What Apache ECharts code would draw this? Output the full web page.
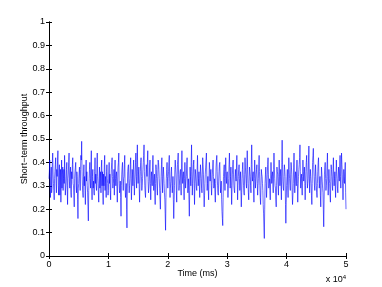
<!DOCTYPE html>
<html><head><meta charset="utf-8">
<script src="https://cdn.jsdelivr.net/npm/echarts@6/dist/echarts.min.js"></script>
<style>html,body{margin:0;padding:0;background:#fff}#c{width:382px;height:287px}</style>
</head><body><div id="c"></div>
<script>
var sampleStepMs = 62.5;
// samples at even steps (0, 125, 250 ... ms)
var throughputEven = [
0.33,0.41,0.25,0.38,0.29,0.44,0.31,0.24,0.36,0.42,0.27,0.34,0.45,0.26,0.39,0.30,0.23,0.41,0.35,0.28,
0.37,0.43,0.26,0.32,0.40,0.22,0.35,0.44,0.29,0.38,0.25,0.33,0.42,0.30,0.21,0.36,0.40,0.27,0.34,0.16,
0.31,0.38,0.28,0.43,0.49,0.30,0.25,0.39,0.34,0.22,0.41,0.36,0.27,0.15,0.33,0.40,0.29,0.45,0.24,0.37,
0.32,0.26,0.42,0.35,0.28,0.44,0.31,0.23,0.38,0.33,0.27,0.41,0.36,0.22,0.30,0.43,0.34,0.25,0.39,0.31,
0.28,0.40,0.35,0.24,0.37,0.42,0.29,0.33,0.26,0.41,0.30,0.36,0.23,0.38,0.44,0.27,0.32,0.17,0.35,0.40,
0.28,0.34,0.43,0.25,0.31,0.12,0.36,0.39,0.27,0.33,0.42,0.24,0.37,0.30,0.41,0.26,0.35,0.44,0.29,0.475,
0.31,0.38,0.23,0.36,0.42,0.28,0.33,0.40,0.475,0.30,0.25,0.39,0.34,0.45,0.27,0.32,0.41,0.24,0.36,0.30,
0.43,0.28,0.35,0.22,0.39,0.33,0.26,0.41,0.37,0.29,0.20,0.34,0.42,0.27,0.38,0.31,0.24,0.11,0.33,0.40,
0.29,0.36,0.43,0.25,0.32,0.38,0.27,0.34,0.16,0.30,0.41,0.35,0.23,0.39,0.44,0.28,0.33,0.37,0.26,0.45,
0.31,0.36,0.24,0.40,0.29,0.34,0.42,0.27,0.33,0.17,0.38,0.30,0.475,0.26,0.35,0.41,0.22,0.37,0.32,0.28,
0.43,0.30,0.36,0.25,0.39,0.33,0.27,0.42,0.35,0.21,0.31,0.38,0.44,0.28,0.34,0.24,0.40,0.32,0.37,0.26,
0.35,0.41,0.29,0.33,0.23,0.38,0.43,0.30,0.26,0.36,0.40,0.27,0.32,0.19,0.13,0.34,0.39,0.28,0.42,0.31,
0.36,0.25,0.33,0.44,0.29,0.38,0.22,0.35,0.41,0.30,0.27,0.37,0.32,0.43,0.24,0.34,0.39,0.28,0.36,0.21,
0.33,0.40,0.30,0.26,0.42,0.35,0.29,0.45,0.31,0.24,0.38,0.34,0.27,0.475,0.32,0.36,0.23,0.41,0.29,0.35,
0.39,0.26,0.33,0.43,0.30,0.22,0.37,0.34,0.28,0.18,0.075,0.31,0.38,0.25,0.35,0.42,0.29,0.33,0.24,0.40,
0.31,0.36,0.27,0.44,0.33,0.29,0.21,0.38,0.35,0.26,0.41,0.30,0.37,0.24,0.495,0.32,0.28,0.39,0.34,0.14,
0.30,0.37,0.25,0.42,0.33,0.28,0.40,0.35,0.22,0.31,0.44,0.27,0.36,0.30,0.41,0.23,0.34,0.39,0.475,0.29,
0.35,0.26,0.41,0.32,0.38,0.24,0.36,0.43,0.29,0.33,0.47,0.27,0.37,0.31,0.22,0.40,0.46,0.34,0.28,0.39,
0.30,0.25,0.36,0.42,0.29,0.34,0.21,0.38,0.32,0.27,0.125,0.35,0.40,0.28,0.33,0.44,0.26,0.37,0.31,0.23,
0.39,0.34,0.28,0.42,0.30,0.36,0.25,0.41,0.33,0.27,0.38,0.32,0.43,0.29,0.44,0.35,0.24,0.37,0.31,0.40,
0.20
];
// samples at odd steps (62.5, 187.5 ... ms)
var throughputOdd = [
0.36,0.30,0.34,0.27,0.40,0.35,0.28,0.33,0.39,0.31,0.37,0.41,0.30,0.35,0.26,0.37,0.32,0.29,0.38,0.33,
0.31,0.34,0.29,0.37,0.30,0.33,0.40,0.32,0.35,0.27,0.36,0.39,0.31,0.26,0.33,0.38,0.30,0.36,0.24,0.29,
0.35,0.33,0.37,0.41,0.36,0.27,0.34,0.30,0.28,0.35,0.32,0.30,0.21,0.28,0.37,0.33,0.38,0.30,0.34,0.29,
0.27,0.36,0.31,0.30,0.39,0.34,0.27,0.33,0.29,0.36,0.38,0.30,0.27,0.35,0.39,0.28,0.31,0.36,0.33,0.26,
0.35,0.31,0.28,0.33,0.40,0.34,0.31,0.37,0.35,0.33,0.34,0.29,0.32,0.40,0.31,0.28,0.25,0.30,0.38,0.32,
0.33,0.39,0.30,0.27,0.20,0.29,0.38,0.31,0.30,0.39,0.33,0.30,0.35,0.37,0.32,0.31,0.40,0.34,0.39,0.36,
0.35,0.29,0.31,0.40,0.34,0.30,0.37,0.43,0.36,0.27,0.33,0.37,0.40,0.32,0.29,0.38,0.31,0.30,0.34,0.38,
0.35,0.32,0.27,0.31,0.37,0.29,0.34,0.40,0.33,0.24,0.28,0.39,0.33,0.34,0.35,0.27,0.18,0.25,0.37,0.34,
0.33,0.40,0.32,0.29,0.36,0.31,0.30,0.24,0.23,0.37,0.38,0.28,0.32,0.41,0.35,0.30,0.36,0.30,0.38,0.36,
0.34,0.29,0.33,0.35,0.32,0.39,0.33,0.30,0.24,0.28,0.34,0.40,0.36,0.31,0.39,0.30,0.31,0.35,0.29,0.37,
0.35,0.33,0.30,0.33,0.36,0.29,0.35,0.39,0.27,0.26,0.35,0.41,0.35,0.31,0.28,0.33,0.37,0.35,0.30,0.31,
0.38,0.34,0.30,0.27,0.31,0.41,0.36,0.27,0.32,0.39,0.33,0.29,0.24,0.16,0.25,0.37,0.33,0.36,0.36,0.34,
0.30,0.29,0.39,0.36,0.34,0.30,0.29,0.39,0.35,0.28,0.33,0.34,0.38,0.33,0.30,0.37,0.33,0.32,0.28,0.27,
0.37,0.35,0.27,0.35,0.38,0.31,0.38,0.37,0.27,0.32,0.36,0.30,0.39,0.38,0.34,0.29,0.33,0.36,0.32,0.37,
0.31,0.30,0.39,0.36,0.25,0.30,0.35,0.31,0.22,0.12,0.20,0.35,0.32,0.30,0.39,0.35,0.31,0.28,0.33,0.35,
0.34,0.31,0.37,0.38,0.30,0.24,0.30,0.36,0.30,0.34,0.35,0.34,0.30,0.40,0.39,0.29,0.34,0.37,0.22,0.23,
0.34,0.30,0.35,0.37,0.30,0.35,0.38,0.27,0.26,0.38,0.35,0.32,0.33,0.36,0.31,0.29,0.37,0.42,0.36,0.33,
0.30,0.34,0.36,0.35,0.31,0.30,0.40,0.36,0.31,0.41,0.35,0.33,0.34,0.26,0.31,0.43,0.39,0.30,0.34,0.35,
0.27,0.31,0.40,0.34,0.31,0.26,0.30,0.35,0.29,0.20,0.24,0.38,0.33,0.30,0.39,0.34,0.32,0.33,0.26,0.32,
0.37,0.30,0.36,0.35,0.33,0.30,0.34,0.36,0.29,0.33,0.35,0.38,0.34,0.37,0.39,0.29,0.31,0.34,0.36,0.27
];
var xTicks = [0, 1, 2, 3, 4, 5];       // x 10^4 ms
var yTicks = [0, 0.1, 0.2, 0.3, 0.4, 0.5, 0.6, 0.7, 0.8, 0.9, 1];
var xLabel = 'Time (ms)';
var yLabel = 'Short\u2212term throughput';

var data = [];
for (var i = 0; i < throughputEven.length; i++) {
  data.push([2 * i * sampleStepMs, throughputEven[i]]);
  if (i < throughputOdd.length) data.push([(2 * i + 1) * sampleStepMs, throughputOdd[i]]);
}
var font = 'Liberation Sans, Arial, Helvetica, sans-serif';
var chart = echarts.init(document.getElementById('c'), null, {renderer: 'canvas'});
var common = {axisLine: {show: true, lineStyle: {color: '#000', width: 1}},
  axisTick: {show: true, inside: true, length: 3, lineStyle: {color: '#000'}},
  splitLine: {show: false}};
chart.setOption({
  animation: false,
  backgroundColor: '#fff',
  grid: {left: 49, right: 36, top: 22, bottom: 31, show: false},
  xAxis: [
    Object.assign({type: 'value', min: 0, max: 50000, interval: 10000, position: 'bottom',
      axisLabel: {color: '#000', fontSize: 9, fontFamily: font, margin: 4,
        formatter: function (v) { return String(xTicks[Math.round(v / 10000)]); }},
      name: xLabel, nameLocation: 'middle', nameGap: 13, nameMoveOverlap: false,
      nameTextStyle: {color: '#000', fontSize: 9, fontFamily: font}}, common),
    Object.assign({type: 'value', min: 0, max: 50000, interval: 10000, position: 'top',
      axisLabel: {show: false}}, common)
  ],
  yAxis: [
    Object.assign({type: 'value', min: 0, max: 1, interval: 0.1, position: 'left',
      axisLabel: {color: '#000', fontSize: 9, fontFamily: font, margin: 4,
        formatter: function (v) { return String(yTicks[Math.round(v * 10)]); }},
      name: yLabel, nameLocation: 'middle', nameGap: 20, nameRotate: 90, nameMoveOverlap: false,
      nameTextStyle: {color: '#000', fontSize: 9, fontFamily: font}}, common),
    Object.assign({type: 'value', min: 0, max: 1, interval: 0.1, position: 'right',
      axisLabel: {show: false}}, common)
  ],
  graphic: [{type: 'text', right: 36, top: 274,
    style: {text: '{a|x 10}{b|4}', rich: {
      a: {fontSize: 9, fontFamily: font, fill: '#000'},
      b: {fontSize: 6, fontFamily: font, fill: '#000', verticalAlign: 'top', padding: [0, 0, 6, 0]}}}}],
  series: [{type: 'line', data: data, showSymbol: false, symbol: 'none',
    lineStyle: {color: '#0000ff', width: 0.6}, xAxisIndex: 0, yAxisIndex: 0}]
});
</script></body></html>
